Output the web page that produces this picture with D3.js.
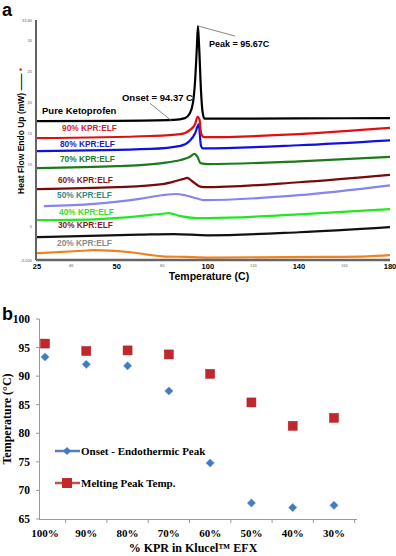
<!DOCTYPE html>
<head>
<meta charset="utf-8" />
<title></title>
<style>
body { margin: 0; background: #fff; }
svg { display: block; }
.lab { font-family: "Liberation Sans", Arial, sans-serif; font-weight: bold; }
.serif { font-family: "Liberation Serif", "Times New Roman", serif; font-weight: bold; }
path.curve { fill: none; stroke-width: 2.2px; stroke-linejoin: round; }
</style>
</head>
<body>
<div id="container"></div>
<script src="https://cdn.jsdelivr.net/npm/d3@7"></script>
<script>
// ---------- panel a : DSC curves, [temperature C, heat flow mW] ----------
var pure = [[25,17.0],[60,17.05],[85,17.2],[90,17.5],[92,18.2],[93.5,20],[94.5,24],[95.2,29],[95.67,32.4],[96.2,29],[97,22],[97.7,18.5],[98.5,17.4],[100,17.4],[140,17.45],[180,17.5]];
var kpr90 = [[25,14.26],[75,14.6],[88,14.9],[92.2,15.6],[94.4,16.5],[95.5,17.7],[96.4,17.2],[97,15.1],[98.3,14.4],[140,14.9],[180,15.9]];
var kpr80 = [[25,12.16],[75,12.5],[88,13.0],[92,13.8],[94.5,15.1],[96,16.5],[97,13.0],[97.8,12.6],[140,13.1],[180,13.9]];
var kpr70 = [[25,9.4],[60,9.7],[80,10.2],[88,10.7],[92,11.2],[94.2,11.7],[95.5,11.2],[96.8,10.2],[100,10.05],[140,10.5],[180,11.2]];
var kpr60 = [[25,6.0],[60,6.3],[80,6.8],[86,7.3],[89,7.6],[91,7.8],[93,7.3],[96,6.5],[98,6.3],[140,7.1],[180,8.3]];
var kpr50 = [[28,3.24],[50,3.6],[70,4.4],[80,5.0],[86,5.2],[90,5.0],[95,4.5],[98,4.2],[140,5.0],[180,6.6]];
var kpr40 = [[25,0.97],[50,1.1],[70,1.6],[80,2.0],[83,2.1],[88,1.6],[95,1.3],[100,1.3],[140,1.9],[180,2.75]];
var kpr30 = [[25,-1.8],[70,-1.4],[85,-1.3],[100,-1.5],[140,-1.0],[180,-0.16]];
var kpr20 = [[25,-4.4],[45,-4.0],[50,-3.9],[65,-4.2],[80,-4.9],[90,-5.0],[100,-5.1],[150,-5.0],[170,-4.9],[180,-4.7]];

var curveNames = ["Pure Ketoprofen", "90% KPR:ELF", "80% KPR:ELF", "70% KPR:ELF", "60% KPR:ELF",
                  "50% KPR:ELF", "40% KPR:ELF", "30% KPR:ELF", "20% KPR:ELF"];
var curveData = [pure, kpr90, kpr80, kpr70, kpr60, kpr50, kpr40, kpr30, kpr20];
var curveColors = ["#000000", "#e01010", "#1010e0", "#1c7a1c", "#7a0a0a", "#8585f2", "#22e822", "#111111", "#f0821a"];
var labelColors = ["#000000", "#e02020", "#1a1ad0", "#2a7a2a", "#8a1a1a", "#2f8c8c", "#33dd33", "#8a1a2a", "#8a8a8a"];
// label anchor [temperature, mW]
var labelPos = [[27.2,18.15],[36,15.4],[35.1,12.8],[35.1,10.4],[34.2,7.0],[33.8,4.5],[34.7,1.8],[34.2,-0.3],[33.8,-3.2]];

var xTicksBig = [25, 60, 100, 140, 180], xTickBigLabels = ["25", "50", "100", "140", "180"];
var xTicksSmall = [40, 80, 120, 160];
var yTicks = [-5.5, 0, 10, 15, 20, 25, 30, 33.4], yTickLabels = ["-5.000", "0", "10", "15", "20", "25", "30", "33.40"];

// ---------- panel b : temperatures ----------
var kprCats = ["100%", "90%", "80%", "70%", "60%", "50%", "40%", "30%"];
var onsetTemp = [93.35, 92.07, 91.8, 87.4, 74.8, 67.8, 67.0, 67.4];
var peakTemp = [95.7, 94.4, 94.5, 93.8, 90.4, 85.4, 81.3, 82.7];
var bTicks = [65, 70, 75, 80, 85, 90, 95, 100];

var width = 396, height = 556;
var svg = d3.select("#container").append("svg")
    .attr("width", width).attr("height", height);

// ================= panel a =================
var xa = d3.scaleLinear().domain([25, 180]).range([37, 390]);
var ya = d3.scaleLinear().domain([-5.5, 33.4]).range([260, 20]);
var ga = svg.append("g");

svg.append("text").attr("class", "lab").attr("x", 2).attr("y", 16)
    .attr("font-size", "18px").text("a");

// y axis line + tiny labels
ga.append("line").attr("x1", 36).attr("x2", 36).attr("y1", ya(33.4)).attr("y2", ya(-5.5))
    .attr("stroke", "#111").attr("stroke-width", 1.3);
ga.selectAll(".ytl").data(yTicks).enter().append("text")
    .attr("class", "lab").attr("x", 32).attr("y", d => ya(d) + 1.5)
    .attr("text-anchor", "end").attr("font-size", "4px").attr("fill", "#999")
    .attr("font-weight", "normal")
    .text((d, i) => yTickLabels[i]);

var line = d3.line().x(d => xa(d[0])).y(d => ya(d[1])).curve(d3.curveMonotoneX);
// draw bottom curves first
for (var i = curveData.length - 1; i >= 0; i--) {
    ga.append("path").attr("class", "curve")
        .attr("d", line(curveData[i]))
        .attr("stroke", curveColors[i])
        .attr("stroke-width", i == 0 ? 2.4 : 2.2);
}

// x axis (gray thick line)
ga.append("line").attr("x1", 36).attr("x2", 390).attr("y1", 260).attr("y2", 260)
    .attr("stroke", "#666").attr("stroke-width", 2.5);
ga.selectAll(".xbig").data(xTicksBig).enter().append("text")
    .attr("class", "lab").attr("x", d => xa(d)).attr("y", 269)
    .attr("text-anchor", "middle").attr("font-size", "7.5px")
    .text((d, i) => xTickBigLabels[i]);
ga.selectAll(".xsm").data(xTicksSmall).enter().append("text")
    .attr("class", "lab").attr("x", d => xa(d)).attr("y", 267)
    .attr("text-anchor", "middle").attr("font-size", "4px").attr("fill", "#999")
    .attr("font-weight", "normal").text(d => d);

ga.append("text").attr("class", "lab").attr("x", 209).attr("y", 280)
    .attr("text-anchor", "middle").attr("font-size", "10.5px").attr("font-weight", "normal")
    .text("Temperature (C)");

var yt = ga.append("text").attr("class", "lab")
    .attr("transform", "translate(24,131) rotate(-90)")
    .attr("text-anchor", "middle").attr("font-size", "8.5px").attr("font-weight", "normal");
yt.append("tspan").text("Heat Flow Endo Up (mW) ——");
yt.append("tspan").attr("fill", "#c03030").text(" •");

// curve labels
ga.selectAll(".clab").data(curveNames).enter().append("text")
    .attr("class", "lab")
    .attr("x", (d, i) => xa(labelPos[i][0]))
    .attr("y", (d, i) => ya(labelPos[i][1]))
    .attr("font-size", (d, i) => i == 0 ? "9.5px" : "8.3px")
    .attr("fill", (d, i) => labelColors[i])
    .text(d => d);

// onset / peak annotations
ga.append("line").attr("x1", xa(74.6)).attr("y1", ya(19.9)).attr("x2", xa(84.3)).attr("y2", ya(17.0))
    .attr("stroke", "#666").attr("stroke-width", 0.8);
ga.append("text").attr("class", "lab").attr("x", xa(62.3)).attr("y", ya(20.2))
    .attr("font-size", "9.5px").text("Onset = 94.37 C");
ga.append("line").attr("x1", xa(96)).attr("y1", ya(32.4)).attr("x2", xa(111.9)).attr("y2", ya(30.8))
    .attr("stroke", "#666").attr("stroke-width", 0.8);
ga.append("text").attr("class", "lab").attr("x", xa(100.5)).attr("y", ya(29.1))
    .attr("font-size", "9px").text("Peak = 95.67C");

// ================= panel b =================
var xb = d3.scalePoint().domain(kprCats).range([45, 334]);
var yb = d3.scaleLinear().domain([65, 100]).range([519, 319]);
var gb = svg.append("g");

svg.append("text").attr("class", "lab").attr("x", 2).attr("y", 320)
    .attr("font-size", "18px").text("b");

// y axis
gb.append("line").attr("x1", 39.5).attr("x2", 39.5).attr("y1", yb(100)).attr("y2", yb(65))
    .attr("stroke", "#999").attr("stroke-width", 1);
gb.selectAll(".ybt").data(bTicks).enter().append("line")
    .attr("x1", 36).attr("x2", 39.5).attr("y1", d => yb(d)).attr("y2", d => yb(d))
    .attr("stroke", "#999");
gb.selectAll(".ybl").data(bTicks).enter().append("text")
    .attr("class", "serif").attr("x", 30).attr("y", d => yb(d) + 4)
    .attr("text-anchor", "end").attr("font-size", "11.5px").text(d => d);

// x axis
gb.append("line").attr("x1", 39).attr("x2", 357).attr("y1", 519.5).attr("y2", 519.5)
    .attr("stroke", "#999").attr("stroke-width", 1);
var step = xb.step();
gb.selectAll(".xbt").data(kprCats).enter().append("line")
    .attr("x1", d => xb(d) + step / 2).attr("x2", d => xb(d) + step / 2)
    .attr("y1", 519.5).attr("y2", 523).attr("stroke", "#999");
gb.selectAll(".xbl").data(kprCats).enter().append("text")
    .attr("class", "serif").attr("x", d => xb(d)).attr("y", 537)
    .attr("text-anchor", "middle").attr("font-size", "11px").text(d => d);

gb.append("text").attr("class", "serif")
    .attr("transform", "translate(11,419) rotate(-90)")
    .attr("text-anchor", "middle").attr("font-size", "12px").text("Temperature (°C)");
gb.append("text").attr("class", "serif").attr("x", 193).attr("y", 552)
    .attr("text-anchor", "middle").attr("font-size", "12px").text("% KPR in Klucel™ EFX");

var blue = "#3f7cc4", red = "#c0282c";
var diamond = d3.symbol().type(d3.symbolSquare).size(34);
gb.selectAll(".on").data(onsetTemp).enter().append("path")
    .attr("d", diamond)
    .attr("transform", (d, i) => "translate(" + xb(kprCats[i]) + "," + yb(d) + ") rotate(45)")
    .attr("fill", blue).attr("stroke", "#5a90d0").attr("stroke-width", 0.5);
gb.selectAll(".pk").data(peakTemp).enter().append("rect")
    .attr("x", (d, i) => xb(kprCats[i]) - 4.5).attr("y", d => yb(d) - 4.5)
    .attr("width", 9).attr("height", 9)
    .attr("fill", red).attr("stroke", "#a82024").attr("stroke-width", 0.5);

// legend
var leg = gb.append("g");
leg.append("line").attr("x1", 55).attr("x2", 80).attr("y1", 451).attr("y2", 451)
    .attr("stroke", "#4f81bd").attr("stroke-width", 2.5);
leg.append("path").attr("d", diamond).attr("transform", "translate(67,451) rotate(45)").attr("fill", blue);
leg.append("text").attr("class", "serif").attr("x", 81).attr("y", 455)
    .attr("font-size", "11px").text("Onset - Endothermic Peak");
leg.append("line").attr("x1", 55).attr("x2", 80).attr("y1", 483).attr("y2", 483)
    .attr("stroke", "#c0504d").attr("stroke-width", 2.5);
leg.append("rect").attr("x", 62).attr("y", 478).attr("width", 10).attr("height", 10).attr("fill", red);
leg.append("text").attr("class", "serif").attr("x", 81).attr("y", 487)
    .attr("font-size", "11px").text("Melting Peak Temp.");
</script>
</body>
